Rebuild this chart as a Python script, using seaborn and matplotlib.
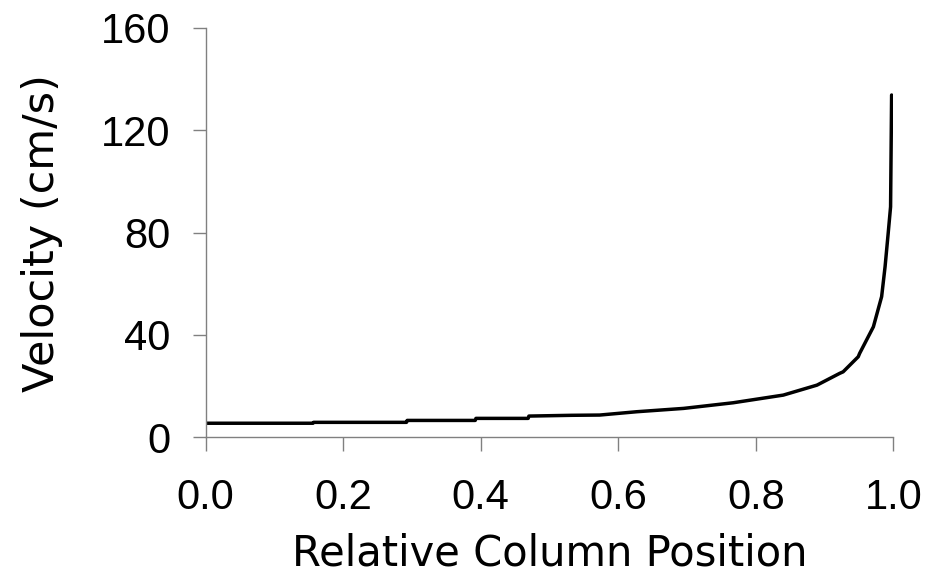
import matplotlib
matplotlib.use("Agg")
import matplotlib.pyplot as plt
import seaborn as sns
import pandas as pd

position = [0.0, 0.156, 0.157, 0.292, 0.293, 0.392, 0.393, 0.469, 0.470, 0.532,
            0.573, 0.627, 0.695, 0.767, 0.840, 0.889, 0.922, 0.927, 0.949, 0.951,
            0.971, 0.983, 0.988, 0.9925, 0.996, 0.9975]
velocity = [5.5, 5.5, 5.85, 5.85, 6.6, 6.6, 7.4, 7.4, 8.3, 8.6,
            8.7, 10.0, 11.3, 13.5, 16.5, 20.4, 25.0, 25.6, 31.5, 32.8,
            43.2, 55.0, 66.7, 79.7, 90.1, 133.8]

x_ticks = [0.0, 0.2, 0.4, 0.6, 0.8, 1.0]
x_ticklabels = ["0.0", "0.2", "0.4", "0.6", "0.8", "1.0"]
y_ticks = [0, 40, 80, 120, 160]
y_ticklabels = ["0", "40", "80", "120", "160"]

df = pd.DataFrame({"Relative Column Position": position, "Velocity (cm/s)": velocity})

sns.set_style("white")
plt.rcParams["font.family"] = ["Liberation Sans", "DejaVu Sans"]

fig = plt.figure(figsize=(9.29, 5.77), dpi=100)
ax = fig.add_axes([0.2214, 0.2421, 0.9616 - 0.2214, 0.9515 - 0.2421])

sns.lineplot(data=df, x="Relative Column Position", y="Velocity (cm/s)",
             sort=False, estimator=None, color="black", linewidth=2.5, ax=ax)

ax.set_xlim(0, 1.0)
ax.set_ylim(0, 160)
ax.set_xticks(x_ticks)
ax.set_xticklabels(x_ticklabels)
ax.set_yticks(y_ticks)
ax.set_yticklabels(y_ticklabels)

for side in ["top", "right"]:
    ax.spines[side].set_visible(False)
for side in ["left", "bottom"]:
    ax.spines[side].set_color("#808080")
    ax.spines[side].set_linewidth(1.0)

ax.tick_params(axis="x", direction="out", length=10, width=1.0, color="#808080",
               pad=19, labelsize=30, labelcolor="black")
ax.tick_params(axis="y", direction="out", length=9.5, width=1.0, color="#808080",
               pad=16, labelsize=30, labelcolor="black")
ax.tick_params(bottom=True, left=True)

ax.set_xlabel("Relative Column Position", fontsize=30, family="DejaVu Sans",
              color="black", labelpad=11)
ax.set_ylabel("Velocity (cm/s)", fontsize=31, family="DejaVu Sans",
              color="black", labelpad=27)

fig.savefig("out.png", dpi=100)
